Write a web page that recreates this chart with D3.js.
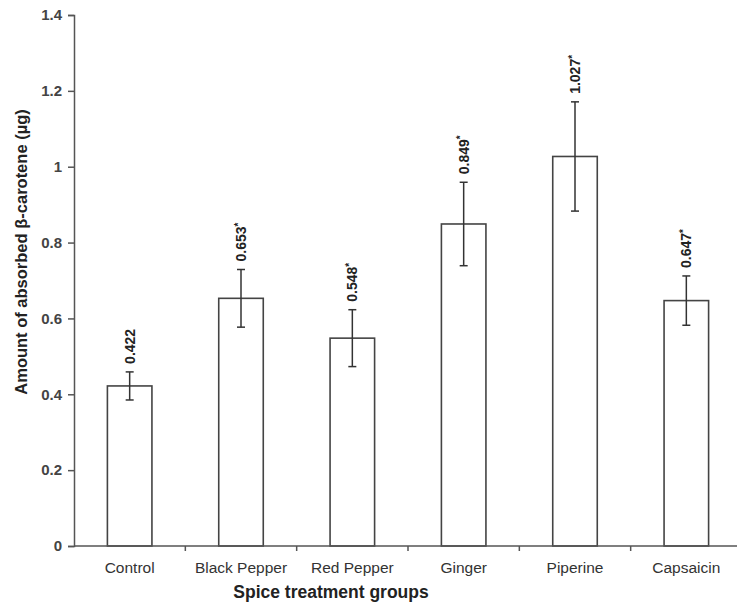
<!DOCTYPE html>
<html>
<head>
<meta charset="utf-8">
<script src="https://cdn.jsdelivr.net/npm/d3@7"></script>
<style>
  body { margin: 0; background: #fff; }
  svg { display: block; font-family: "Liberation Sans", Arial, sans-serif; }
</style>
</head>
<body>
<svg id="chart" width="737" height="605"></svg>
<script>
// data
const groups = ["Control", "Black Pepper", "Red Pepper", "Ginger", "Piperine", "Capsaicin"];
const means = [0.422, 0.653, 0.548, 0.849, 1.027, 0.647];
const errors = [0.037, 0.076, 0.075, 0.11, 0.144, 0.065];
const significant = [false, true, true, true, true, true];
const yTicks = [0, 0.2, 0.4, 0.6, 0.8, 1, 1.2, 1.4];

const svg = d3.select("#chart");
const plotLeft = 74, plotRight = 742, plotTop = 15, plotBottom = 546;

const x = d3.scaleBand()
  .domain(groups)
  .range([plotLeft, plotRight])
  .paddingInner(0.6)
  .paddingOuter(0.3);

const y = d3.scaleLinear()
  .domain([0, 1.4])
  .range([plotBottom, plotTop]);

const axisColor = "#555";

// y axis
const yAxis = svg.append("g")
  .attr("transform", "translate(" + plotLeft + ",0)")
  .call(d3.axisLeft(y).tickValues(yTicks).tickSize(6).tickPadding(6)
    .tickFormat(d => d3.format("")(d)));
yAxis.select(".domain").attr("stroke", axisColor).attr("stroke-width", 1.5);
yAxis.selectAll(".tick line").attr("stroke", axisColor).attr("stroke-width", 1.5);
yAxis.selectAll(".tick text")
  .attr("fill", "#444")
  .style("font-size", "15px")
  .style("font-weight", "bold");

// bars
const bars = svg.append("g");
bars.selectAll("rect")
  .data(groups)
  .join("rect")
  .attr("x", d => x(d))
  .attr("y", (d, i) => y(means[i]))
  .attr("width", x.bandwidth())
  .attr("height", (d, i) => y(0) - y(means[i]))
  .attr("fill", "#fff")
  .attr("stroke", "#444")
  .attr("stroke-width", 1.6);

// x axis (drawn after bars so the baseline sits on top)
const step = x.step();
const boundaries = groups.slice(1).map(d => x(d) - (step - x.bandwidth()) / 2);
const xAxis = svg.append("g");
xAxis.append("line")
  .attr("x1", plotLeft).attr("x2", plotRight)
  .attr("y1", y(0)).attr("y2", y(0))
  .attr("stroke", axisColor).attr("stroke-width", 1.5);
xAxis.selectAll(".xt")
  .data(boundaries)
  .join("line")
  .attr("class", "xt")
  .attr("x1", d => d).attr("x2", d => d)
  .attr("y1", y(0)).attr("y2", y(0) + 5)
  .attr("stroke", axisColor).attr("stroke-width", 1.5);
xAxis.selectAll("text")
  .data(groups)
  .join("text")
  .attr("x", d => x(d) + x.bandwidth() / 2)
  .attr("y", y(0) + 27)
  .attr("text-anchor", "middle")
  .attr("fill", "#333")
  .style("font-size", "15.5px")
  .text(d => d);

// error bars
const cx = d => x(d) + x.bandwidth() / 2;
const eb = svg.append("g").attr("stroke", "#333").attr("stroke-width", 1.5);
groups.forEach((g, i) => {
  const hi = y(means[i] + errors[i]), lo = y(means[i] - errors[i]);
  eb.append("line").attr("x1", cx(g)).attr("x2", cx(g)).attr("y1", hi).attr("y2", lo);
  eb.append("line").attr("x1", cx(g) - 4).attr("x2", cx(g) + 4).attr("y1", hi).attr("y2", hi);
  eb.append("line").attr("x1", cx(g) - 4).attr("x2", cx(g) + 4).attr("y1", lo).attr("y2", lo);
});

// value labels, rotated
const labels = svg.append("g");
groups.forEach((g, i) => {
  const t = labels.append("text")
    .attr("transform", "translate(" + (cx(g) + 5) + "," + (y(means[i] + errors[i]) - 8) + ") rotate(-90)")
    .attr("fill", "#222")
    .style("font-size", "14px")
    .style("font-weight", "bold")
    .text(means[i].toFixed(3));
  if (significant[i]) {
    t.append("tspan").attr("dy", "-0.45em").style("font-size", "10px").text("*");
  }
});

// axis titles
svg.append("text")
  .attr("x", 331)
  .attr("y", 598)
  .attr("text-anchor", "middle")
  .attr("fill", "#222")
  .style("font-size", "17.5px")
  .style("font-weight", "bold")
  .text("Spice treatment groups");

svg.append("text")
  .attr("transform", "translate(27,252) rotate(-90)")
  .attr("text-anchor", "middle")
  .attr("fill", "#222")
  .style("font-size", "16.5px")
  .style("font-weight", "bold")
  .text("Amount of absorbed β-carotene (µg)");
</script>
</body>
</html>
